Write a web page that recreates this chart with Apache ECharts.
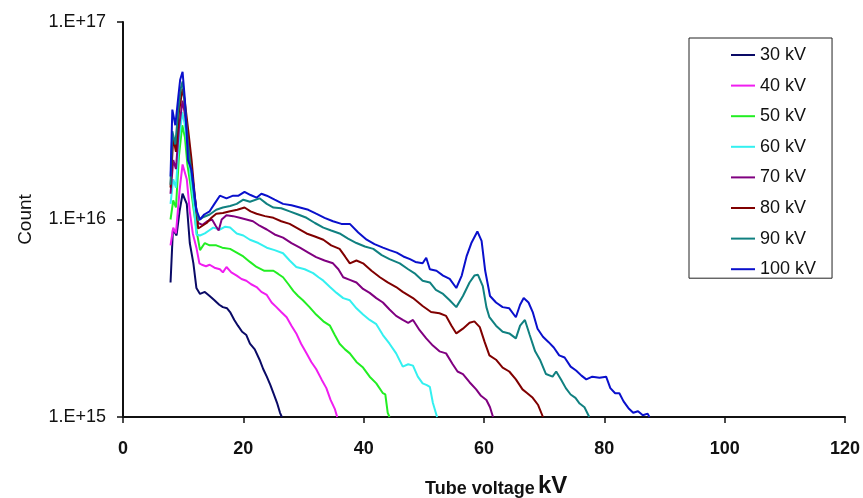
<!DOCTYPE html>
<html lang="en">
<head>
    <meta charset="UTF-8">
    <title>tube-voltage-spectra</title>
    <script src="https://cdn.jsdelivr.net/npm/echarts@6.0.0/dist/echarts.min.js"></script>
</head>
<body style="margin:0;background:#fff;">
<div id="main" style="width: 863px;height:498px;"></div>
<script>
    // spectra, [kV, count]
    var names = ['30 kV', '40 kV', '50 kV', '60 kV', '70 kV', '80 kV', '90 kV', '100 kV'];
    var colors = ['#0a0a66', '#f01ef0', '#22ee22', '#33f0f0', '#800080', '#800000', '#108080', '#0a10cc'];
    var xTicks = [0, 20, 40, 60, 80, 100, 120];

    var kv30 = [[7.9, 4.8e15], [8.3, 8.9e15], [8.9, 8.3e15], [9.4, 1.1e16], [9.9, 1.35e16], [10.6, 1.2e16], [11.1, 7.6e15],
        [11.7, 6.0e15], [12.2, 4.5e15], [12.8, 4.2e15], [13.6, 4.3e15], [14.4, 4.1e15], [15.2, 3.9e15], [16.0, 3.7e15],
        [16.6, 3.6e15], [17.3, 3.55e15], [17.8, 3.4e15], [18.5, 3.1e15], [19.1, 2.9e15], [19.8, 2.7e15], [20.5, 2.6e15],
        [21.1, 2.35e15], [21.9, 2.2e15], [22.7, 1.95e15], [23.3, 1.75e15], [23.9, 1.6e15], [24.5, 1.45e15], [25.0, 1.32e15],
        [25.6, 1.18e15], [26.1, 1.05e15], [26.4, 1.0e15]];

    var kv40 = [[7.9, 7.4e15], [8.35, 9.1e15], [8.8, 8.5e15], [9.4, 1.4e16], [9.9, 1.9e16], [10.6, 1.6e16], [11.1, 1.1e16],
        [11.6, 8.5e15], [12.2, 7.2e15], [12.7, 6.0e15], [13.1, 5.9e15], [13.8, 5.8e15], [14.4, 5.9e15], [15.2, 5.7e15],
        [16.1, 5.6e15], [16.6, 5.4e15], [17.2, 5.75e15], [18.0, 5.4e15], [18.9, 5.2e15], [19.7, 5.0e15], [20.5, 4.9e15],
        [21.3, 4.7e15], [22.2, 4.55e15], [23.0, 4.3e15], [23.9, 4.15e15], [24.7, 3.8e15], [25.5, 3.6e15], [26.3, 3.4e15],
        [27.2, 3.2e15], [28.0, 2.9e15], [28.8, 2.65e15], [29.6, 2.35e15], [30.5, 2.1e15], [31.3, 1.9e15], [32.1, 1.75e15],
        [33.0, 1.55e15], [33.8, 1.4e15], [34.5, 1.22e15], [35.2, 1.1e15], [35.6, 1.0e15]];

    var kv50 = [[7.9, 1.0e16], [8.35, 1.25e16], [8.8, 1.15e16], [9.3, 2.1e16], [9.85, 3.0e16], [10.3, 2.6e16], [10.7, 1.9e16],
        [11.2, 1.5e16], [11.7, 1.15e16], [12.3, 8.5e15], [12.8, 7.0e15], [13.6, 7.6e15], [14.4, 7.4e15], [15.5, 7.4e15],
        [16.5, 7.2e15], [17.8, 7.1e15], [18.9, 6.8e15], [20.0, 6.5e15], [21.1, 6.1e15], [22.2, 5.75e15], [23.5, 5.5e15],
        [25.0, 5.5e15], [25.8, 5.3e15], [26.6, 5.1e15], [27.5, 4.7e15], [28.3, 4.35e15], [29.1, 4.1e15], [29.9, 3.9e15],
        [31.0, 3.6e15], [32.1, 3.3e15], [33.3, 3.05e15], [34.4, 2.9e15], [35.2, 2.6e15], [36.0, 2.35e15], [36.9, 2.2e15],
        [37.7, 2.1e15], [38.8, 1.9e15], [39.9, 1.78e15], [41.0, 1.6e15], [42.1, 1.48e15], [43.2, 1.32e15], [43.6, 1.3e15],
        [44.0, 1.05e15], [44.3, 1.0e15]];

    var kv60 = [[7.9, 1.2e16], [8.35, 1.6e16], [8.8, 1.45e16], [9.3, 2.5e16], [9.85, 3.5e16], [10.3, 3.0e16], [10.8, 2.2e16],
        [11.3, 1.6e16], [11.8, 1.15e16], [12.2, 8.4e15], [12.8, 8.3e15], [13.6, 8.5e15], [14.3, 8.8e15], [15.0, 9.1e15],
        [16.1, 8.9e15], [17.0, 9.2e15], [17.8, 9.1e15], [18.9, 8.5e15], [20.0, 8.3e15], [21.1, 7.9e15], [22.5, 7.6e15],
        [23.9, 7.2e15], [25.2, 7.0e15], [26.6, 6.75e15], [27.7, 6.2e15], [28.8, 5.75e15], [30.2, 5.6e15], [31.6, 5.35e15],
        [32.5, 5.1e15], [33.3, 4.9e15], [34.4, 4.55e15], [35.5, 4.25e15], [36.6, 4.0e15], [37.7, 3.9e15], [38.8, 3.55e15],
        [39.9, 3.3e15], [41.0, 3.1e15], [42.1, 2.95e15], [43.2, 2.6e15], [44.3, 2.35e15], [45.4, 2.1e15], [46.5, 1.8e15],
        [47.4, 1.85e15], [48.2, 1.82e15], [49.0, 1.6e15], [49.8, 1.48e15], [50.5, 1.45e15], [51.0, 1.42e15], [51.5, 1.18e15],
        [52.2, 1.0e15]];

    var kv70 = [[7.9, 1.35e16], [8.35, 2.0e16], [8.8, 1.8e16], [9.3, 2.9e16], [9.9, 4.0e16], [10.3, 3.4e16], [10.8, 2.6e16],
        [11.4, 1.8e16], [11.9, 1.3e16], [12.5, 9.6e15], [13.2, 9.4e15], [14.0, 9.8e15], [14.8, 1.0e16], [15.4, 9.3e15],
        [15.9, 8.8e15], [16.4, 1.0e16], [17.2, 1.05e16], [18.3, 1.04e16], [19.4, 1.02e16], [20.5, 1.0e16], [21.6, 9.8e15],
        [22.7, 9.3e15], [23.9, 8.9e15], [25.2, 8.4e15], [26.6, 8.1e15], [28.0, 7.6e15], [29.4, 7.2e15], [30.8, 6.8e15],
        [32.1, 6.45e15], [33.5, 6.2e15], [34.9, 6.0e15], [35.8, 5.6e15], [36.6, 5.1e15], [37.7, 4.95e15], [38.8, 4.8e15],
        [39.9, 4.45e15], [41.0, 4.25e15], [42.1, 4.0e15], [43.2, 3.8e15], [44.3, 3.5e15], [45.4, 3.25e15], [46.5, 3.1e15],
        [47.4, 3.0e15], [48.2, 3.1e15], [49.3, 2.75e15], [50.4, 2.5e15], [51.5, 2.3e15], [52.6, 2.15e15], [53.7, 2.1e15],
        [54.8, 1.85e15], [55.6, 1.7e15], [56.5, 1.65e15], [57.6, 1.5e15], [58.7, 1.38e15], [59.5, 1.28e15], [60.4, 1.22e15],
        [61.0, 1.12e15], [61.5, 1.0e15]];

    var kv80 = [[7.9, 1.45e16], [8.35, 2.6e16], [8.8, 2.2e16], [9.3, 3.5e16], [9.9, 4.6e16], [10.3, 3.9e16], [10.8, 2.9e16],
        [11.4, 2.0e16], [11.9, 1.35e16], [12.5, 9.0e15], [13.2, 9.3e15], [13.9, 9.6e15], [14.7, 1.02e16], [15.5, 1.07e16],
        [16.6, 1.08e16], [17.8, 1.1e16], [19.0, 1.12e16], [20.2, 1.15e16], [21.2, 1.1e16], [22.2, 1.07e16], [23.6, 1.04e16],
        [25.0, 1.02e16], [26.3, 9.8e15], [27.7, 9.5e15], [29.1, 9.0e15], [30.5, 8.5e15], [31.9, 8.2e15], [33.3, 7.9e15],
        [34.6, 7.4e15], [36.0, 7.1e15], [36.9, 6.5e15], [37.7, 6.0e15], [38.8, 6.2e15], [39.9, 6.0e15], [41.3, 5.5e15],
        [42.7, 5.1e15], [44.0, 4.8e15], [45.4, 4.55e15], [46.5, 4.3e15], [48.2, 4.0e15], [49.8, 3.65e15], [51.2, 3.4e15],
        [52.6, 3.35e15], [53.7, 3.25e15], [54.6, 2.9e15], [55.4, 2.65e15], [56.5, 2.8e15], [57.6, 3.0e15], [58.4, 3.05e15],
        [59.3, 2.85e15], [60.1, 2.4e15], [60.9, 2.05e15], [62.0, 1.95e15], [63.1, 1.78e15], [64.2, 1.7e15], [65.3, 1.55e15],
        [66.4, 1.38e15], [67.2, 1.32e15], [68.1, 1.25e15], [69.0, 1.15e15], [69.8, 1.0e15]];

    var kv90 = [[7.9, 1.5e16], [8.2, 2.8e16], [8.7, 2.4e16], [9.2, 3.6e16], [9.6, 4.6e16], [9.9, 5.0e16], [10.3, 3.8e16],
        [10.8, 2.4e16], [11.4, 1.7e16], [12.0, 1.2e16], [12.5, 9.9e15], [13.4, 1.03e16], [14.4, 1.06e16], [15.5, 1.12e16],
        [16.6, 1.15e16], [17.8, 1.17e16], [18.9, 1.2e16], [20.0, 1.26e16], [21.1, 1.23e16], [22.7, 1.28e16], [23.9, 1.2e16],
        [25.0, 1.15e16], [26.3, 1.14e16], [27.7, 1.1e16], [29.1, 1.06e16], [30.5, 1.02e16], [31.9, 9.6e15], [33.3, 9.1e15],
        [34.6, 8.8e15], [36.0, 8.5e15], [37.4, 8.0e15], [38.8, 7.6e15], [40.2, 7.3e15], [41.6, 7.1e15], [43.0, 6.6e15],
        [44.3, 6.3e15], [46.0, 6.0e15], [47.4, 5.6e15], [48.6, 5.3e15], [49.8, 4.9e15], [51.0, 4.8e15], [52.0, 4.4e15],
        [53.2, 4.2e15], [54.3, 3.9e15], [55.4, 3.6e15], [56.5, 4.1e15], [57.6, 4.8e15], [58.4, 5.2e15], [59.0, 5.25e15],
        [59.8, 4.6e15], [60.4, 3.6e15], [60.9, 3.2e15], [62.0, 2.9e15], [63.1, 2.7e15], [64.2, 2.65e15], [65.3, 2.5e15],
        [66.0, 2.9e15], [66.8, 3.1e15], [67.6, 2.6e15], [68.5, 2.15e15], [69.3, 1.95e15], [70.3, 1.65e15], [71.4, 1.6e15],
        [72.0, 1.7e15], [72.8, 1.55e15], [73.6, 1.4e15], [74.4, 1.3e15], [75.2, 1.25e15], [75.9, 1.17e15], [76.7, 1.12e15],
        [77.5, 1.0e15]];

    var kv100 = [[7.9, 1.65e16], [8.2, 3.6e16], [8.7, 3.0e16], [9.2, 4.2e16], [9.5, 5.1e16], [9.9, 5.6e16], [10.3, 4.0e16],
        [10.8, 2.0e16], [11.4, 1.78e16], [12.2, 1.12e16], [12.8, 1.0e16], [13.5, 1.06e16], [14.4, 1.1e16], [15.2, 1.2e16],
        [16.1, 1.32e16], [17.2, 1.28e16], [18.3, 1.32e16], [19.2, 1.32e16], [20.2, 1.38e16], [21.2, 1.33e16], [22.2, 1.29e16],
        [23.0, 1.35e16], [23.9, 1.32e16], [25.2, 1.26e16], [26.6, 1.2e16], [28.0, 1.18e16], [29.4, 1.15e16], [30.8, 1.12e16],
        [32.1, 1.07e16], [33.5, 1.02e16], [34.9, 9.8e15], [36.3, 9.5e15], [37.7, 9.5e15], [39.1, 8.6e15], [40.5, 7.9e15],
        [41.8, 7.5e15], [43.2, 7.2e15], [44.3, 7.0e15], [45.5, 6.8e15], [46.6, 6.5e15], [47.7, 6.3e15], [48.6, 6.1e15],
        [49.8, 6.0e15], [50.4, 6.4e15], [51.0, 5.6e15], [52.1, 5.5e15], [53.2, 5.2e15], [54.3, 5.0e15], [55.4, 4.5e15],
        [56.3, 5.2e15], [57.1, 6.5e15], [57.9, 7.6e15], [58.9, 8.7e15], [59.6, 7.8e15], [60.2, 5.5e15], [61.0, 4.1e15],
        [62.0, 3.8e15], [63.1, 3.6e15], [64.2, 3.55e15], [65.3, 3.2e15], [66.0, 3.7e15], [66.6, 4.0e15], [67.4, 3.8e15],
        [68.1, 3.4e15], [68.9, 2.8e15], [69.8, 2.55e15], [70.7, 2.4e15], [71.6, 2.25e15], [72.5, 2.05e15], [73.4, 2.0e15],
        [74.4, 1.8e15], [75.3, 1.72e15], [76.2, 1.62e15], [77.0, 1.55e15], [78.0, 1.6e15], [79.2, 1.58e15], [80.3, 1.6e15],
        [81.0, 1.4e15], [81.8, 1.32e15], [82.5, 1.32e15], [83.2, 1.2e15], [84.1, 1.1e15], [84.8, 1.05e15], [85.6, 1.07e15],
        [86.4, 1.02e15], [87.2, 1.04e15], [87.5, 1.0e15]];

    var spectra = [kv30, kv40, kv50, kv60, kv70, kv80, kv90, kv100];

    var font = 'Liberation Sans, Arial, sans-serif';
    var series = [];
    for (var i = 0; i < names.length; i++) {
        series.push({
            name: names[i],
            type: 'line',
            data: spectra[i],
            symbol: 'none',
            color: colors[i],
            lineStyle: { width: 2, color: colors[i] },
            z: 2 + i
        });
    }

    var chart = echarts.init(document.getElementById('main'));
    var option = {
        animation: false,
        backgroundColor: '#fff',
        textStyle: { fontFamily: font },
        grid: { left: 123, right: 17, top: 22, bottom: 81, containLabel: false },
        legend: {
            orient: 'vertical',
            left: 689,
            top: 38,
            padding: [8, 16, 0, 42],
            // flat bar instead of the default line+circle icon
            icon: 'path://M0,0 L24,0 L24,2 L0,2 Z',
            itemWidth: 24,
            itemHeight: 14,
            itemGap: 12.6,
            borderColor: '#222',
            borderWidth: 1,
            data: names,
            textStyle: { fontFamily: font, fontSize: 18, color: '#111', lineHeight: 18 }
        },
        xAxis: {
            type: 'value',
            min: xTicks[0],
            max: xTicks[xTicks.length - 1],
            interval: 20,
            splitLine: { show: false },
            axisLine: { lineStyle: { color: '#111', width: 2 } },
            axisTick: { show: true, length: 6, inside: false, lineStyle: { color: '#111', width: 1.5 } },
            axisLabel: { fontFamily: font, fontSize: 18, fontWeight: 'bold', color: '#111', margin: 23 }
        },
        yAxis: {
            type: 'log',
            logBase: 10,
            min: 1e15,
            max: 1e17,
            splitLine: { show: false },
            axisLine: { show: true, lineStyle: { color: '#111', width: 2 } },
            axisTick: { show: true, length: 6, lineStyle: { color: '#111', width: 1.5 } },
            axisLabel: {
                fontFamily: font, fontSize: 18, color: '#111', margin: 17,
                formatter: function (v) {
                    return '1.E+' + Math.round(Math.log10(v));
                }
            },
            name: 'Count',
            nameLocation: 'middle',
            nameRotate: 90,
            nameGap: 88,
            nameTextStyle: { fontFamily: font, fontSize: 19, color: '#111' }
        },
        graphic: [
            {
                type: 'text',
                left: 425,
                top: 474,
                style: {
                    text: '{a|Tube voltage} {b|kV}',
                    rich: {
                        a: { fontFamily: font, fontSize: 18, fontWeight: 'bold', fill: '#111', verticalAlign: 'bottom' },
                        b: { fontFamily: font, fontSize: 24, fontWeight: 'bold', fill: '#111', verticalAlign: 'bottom' }
                    }
                }
            }
        ],
        series: series
    };
    chart.setOption(option);
</script>
</body>
</html>
